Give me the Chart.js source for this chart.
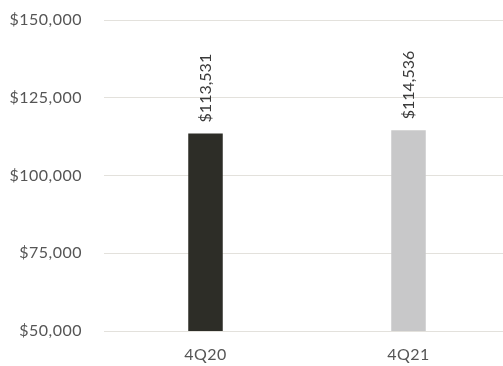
<!DOCTYPE html>
<html>
<head>
<meta charset="utf-8">
<script src="https://cdn.jsdelivr.net/npm/chart.js@4"></script>
<style>
  html, body { margin: 0; padding: 0; background: #fff; }
  #wrap { width: 503px; height: 366px; }
</style>
</head>
<body>
<div id="wrap"><canvas id="chart-canvas"></canvas></div>
<script>
const quarters = ['4Q20', '4Q21'];
const salaries = [113531, 114536];
const barColors = ['#2d2d27', '#c8c8c9'];
const yTicks = [50000, 75000, 100000, 125000, 150000];

const money = v => '$' + v.toLocaleString('en-US');
const FONT = 'Lato, "Open Sans", sans-serif';

// slightly wider tracking for axis text
const tracking = {
    id: 'tracking',
    beforeDraw(chart) { chart.ctx.letterSpacing = '0.5px'; }
};

// let the category axis run a little past the right edge of the canvas
const widenX = {
    id: 'widenX',
    afterLayout(chart) {
        const x = chart.scales.x;
        x.right = x.left + 406;
        x.width = 406;
        x.configure();
    }
};

// value labels rotated above each bar
const barLabels = {
    id: 'barLabels',
    afterDatasetsDraw(chart) {
        const c = chart.ctx;
        chart.getDatasetMeta(0).data.forEach((bar, i) => {
            c.save();
            c.translate(bar.x, bar.y - 11);
            c.rotate(-Math.PI / 2);
            c.letterSpacing = '0px';
            c.font = '16px ' + FONT;
            c.fillStyle = '#3a3a3a';
            c.textAlign = 'left';
            c.textBaseline = 'middle';
            c.fillText(money(salaries[i]), 0, 0);
            c.restore();
        });
    }
};

new Chart(document.getElementById('chart-canvas'), {
    type: 'bar',
    data: {
        labels: quarters,
        datasets: [{
            data: salaries,
            backgroundColor: barColors,
            barPercentage: 0.17,
            categoryPercentage: 1
        }]
    },
    options: {
        responsive: true,
        maintainAspectRatio: false,
        animation: false,
        layout: { padding: { top: 20, right: 0, bottom: 0, left: 0 } },
        plugins: { legend: { display: false }, tooltip: { enabled: false } },
        scales: {
            x: {
                afterFit: axis => { axis.height = 35; },
                grid: { display: false },
                border: { display: false },
                ticks: { color: '#555', font: { family: FONT, size: 16 }, padding: 6, maxRotation: 0 }
            },
            y: {
                min: 50000,
                max: 150000,
                afterBuildTicks: axis => { axis.ticks = yTicks.map(v => ({ value: v })); },
                afterFit: axis => {
                    axis.width = 104;
                    axis.paddingTop = 0;
                    axis.paddingBottom = 0;
                },
                grid: { color: '#e3e1dc', drawTicks: false },
                border: { display: false },
                ticks: {
                    color: '#555',
                    font: { family: FONT, size: 16 },
                    padding: 22,
                    callback: v => money(v)
                }
            }
        }
    },
    plugins: [tracking, widenX, barLabels]
});
</script>
</body>
</html>
